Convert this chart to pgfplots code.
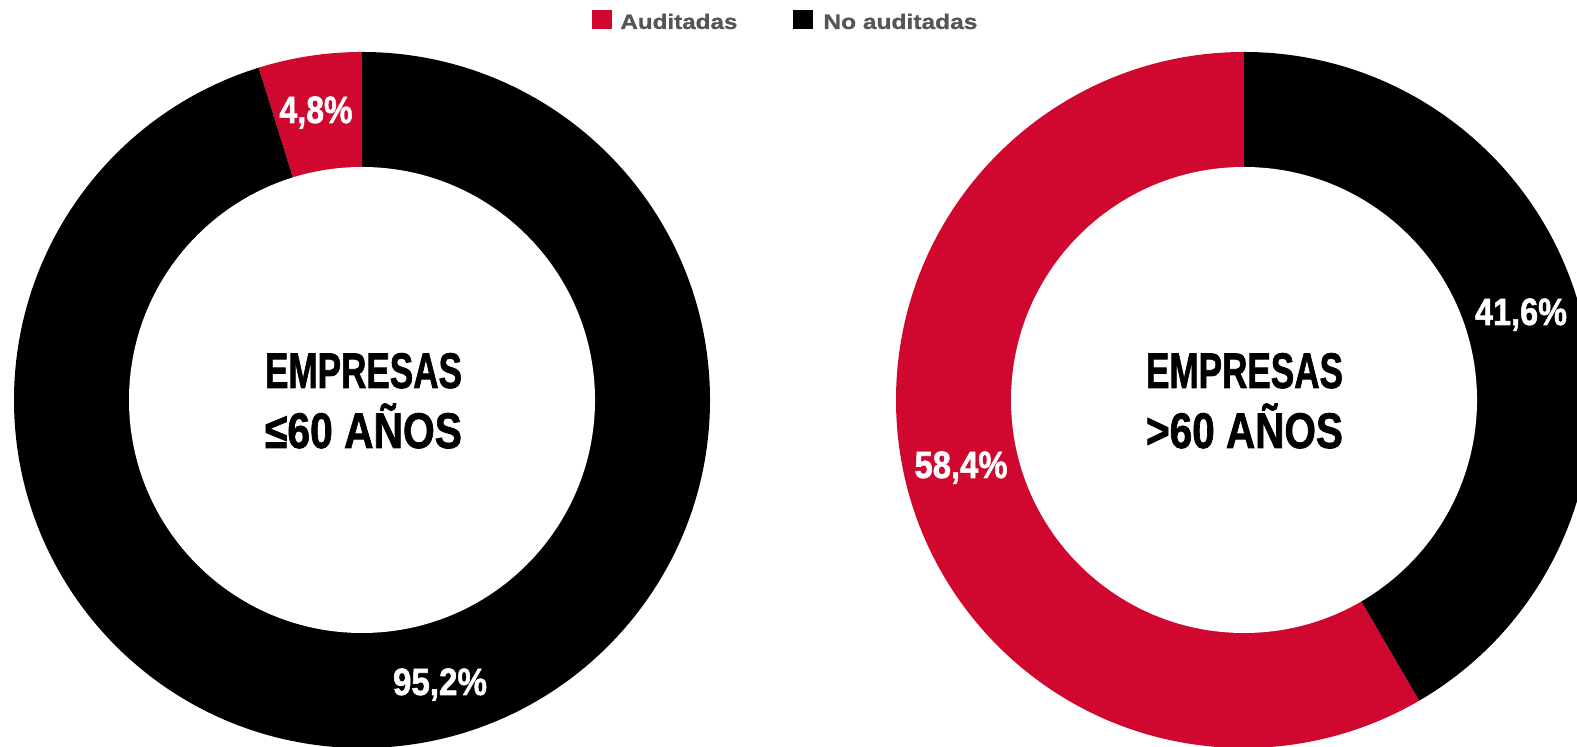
\documentclass[border=0pt]{standalone}
\usepackage{pgfplots}
\pgfplotsset{compat=1.18}
\usepackage{pgfplotstable}
\usepackage{graphicx}
\usepackage{fontspec}
\setmainfont{Liberation Sans}
\newfontfamily\heavy{Liberation Sans}[BoldFeatures={FakeBold=1.6}]
\newfontfamily\semiheavy{Liberation Sans}[BoldFeatures={FakeBold=0.8}]
\definecolor{rojo}{HTML}{D0082F}
\definecolor{gris}{HTML}{555555}

% Share of companies (%): audited / not audited
\pgfplotstableread{
grupo aud noaud
le60 4.8 95.2
gt60 58.4 41.6
}\datos

\begin{document}
\begin{tikzpicture}
\pgfplotstablegetelem{0}{aud}\of\datos \pgfmathsetmacro\aL{90+3.6*\pgfplotsretval}%
\pgfplotstablegetelem{0}{noaud}\of\datos \pgfmathsetmacro\bL{90-3.6*\pgfplotsretval}%
\pgfplotstablegetelem{1}{aud}\of\datos \pgfmathsetmacro\aR{90+3.6*\pgfplotsretval}%
\pgfplotstablegetelem{1}{noaud}\of\datos \pgfmathsetmacro\bR{90-3.6*\pgfplotsretval}%
\begin{axis}[
  x=0.5pt, y=0.5pt,
  xmin=0, xmax=1577, ymin=0, ymax=747,
  hide axis, clip=true,
]
% left donut
\fill[rojo] (axis cs:362,347) -- ++(90:174pt) arc[start angle=90,end angle=\aL,radius=174pt] -- cycle;
\fill[black] (axis cs:362,347) -- ++(90:174pt) arc[start angle=90,end angle=\bL,radius=174pt] -- cycle;
\fill[white] (axis cs:362,347) circle[radius=116.5pt];
% right donut
\fill[rojo] (axis cs:1244,347) -- ++(90:174pt) arc[start angle=90,end angle=\aR,radius=174pt] -- cycle;
\fill[black] (axis cs:1244,347) -- ++(90:174pt) arc[start angle=90,end angle=\bR,radius=174pt] -- cycle;
\fill[white] (axis cs:1244,347) circle[radius=116.5pt];

% percentage labels
\tikzset{pct/.style={anchor=base,inner sep=0pt,text=white,font=\heavy\bfseries\fontsize{19}{19}\selectfont}}
\node[pct] at (axis cs:316,624) {\resizebox{36.5pt}{\height}{4,8\%}};
\node[pct] at (axis cs:440,52) {\resizebox{47pt}{\height}{95,2\%}};
\node[pct] at (axis cs:1521,422) {\resizebox{46pt}{\height}{41,6\%}};
\node[pct] at (axis cs:961,269) {\resizebox{46.5pt}{\height}{58,4\%}};

% centre titles
\tikzset{ctr/.style={anchor=base,inner sep=0pt,text=black,font=\heavy\bfseries\fontsize{25}{25}\selectfont}}
\node[ctr] at (axis cs:363.5,359) {\resizebox{98.5pt}{\height}{EMPRESAS}};
\node[ctr] at (axis cs:363.5,299) {\resizebox{98.5pt}{\height}{≤60 AÑOS}};
\node[ctr] at (axis cs:1244.5,359) {\resizebox{98.5pt}{\height}{EMPRESAS}};
\node[ctr] at (axis cs:1244.5,299) {\resizebox{98.5pt}{\height}{>60 AÑOS}};

% legend
\fill[rojo] (axis cs:592,718) rectangle (axis cs:612,737);
\fill[black] (axis cs:793,718) rectangle (axis cs:813,737);
\tikzset{leg/.style={anchor=base west,inner sep=0pt,text=gris,font=\semiheavy\bfseries\fontsize{10.5}{11}\selectfont}}
\node[leg] at (axis cs:620,718) {\resizebox{58.5pt}{\height}{Auditadas}};
\node[leg] at (axis cs:823,718) {\resizebox{77pt}{\height}{No auditadas}};
\end{axis}
\pgfresetboundingbox
\useasboundingbox (current axis.south west) rectangle (current axis.north east);
\end{tikzpicture}
\end{document}
